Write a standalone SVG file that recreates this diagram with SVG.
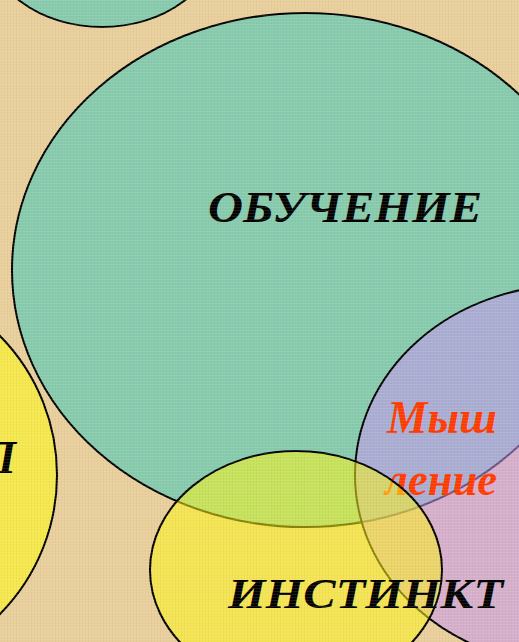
<svg xmlns="http://www.w3.org/2000/svg" width="519" height="642" viewBox="0 0 519 642">
<defs>
<pattern id="weave" width="6" height="6" patternUnits="userSpaceOnUse">
<rect width="6" height="6" fill="none"/>
<path d="M0 0.5H6M0 3.5H6" stroke="#ffffff" stroke-opacity="0.10" stroke-width="1"/>
<path d="M1.5 0V6M4.5 0V6" stroke="#8a6a30" stroke-opacity="0.06" stroke-width="1"/>
</pattern>
<style>
.bub{stroke:#000;stroke-width:2}
.lbl{font-family:"Liberation Serif","DejaVu Serif",serif;font-style:italic;font-weight:bold}
</style>
</defs>
<rect id="background" width="519" height="642" fill="#e8cf9c"/>
<g id="node-top-left"><ellipse class="bub" cx="102" cy="-60" rx="115" ry="87" fill="#86cbae"/></g>
<g id="node-left"><ellipse class="bub" cx="-141" cy="475" rx="198" ry="198" fill="#f5e84c"/>
<text class="lbl" x="16" y="473" font-size="46" text-anchor="end" fill="#000">П</text></g>
<g id="node-obuchenie"><ellipse class="bub" cx="305" cy="270" rx="293" ry="257" fill="#86cbae"/>
<text class="lbl" x="208" y="222" font-size="44" textLength="274" lengthAdjust="spacingAndGlyphs" fill="#000">ОБУЧЕНИЕ</text></g>
<g id="node-myshlenie"><ellipse cx="570" cy="475" rx="215" ry="190" fill="#c696f4" fill-opacity="0.55" stroke="#000" stroke-width="2"/>
<text class="lbl" x="387" y="433" font-size="46" textLength="110" lengthAdjust="spacingAndGlyphs" fill="#ff3a00">Мыш</text>
<text class="lbl" x="385" y="495" font-size="46" textLength="112" lengthAdjust="spacingAndGlyphs" fill="#ff3a00">ление</text></g>
<g id="node-instinkt"><ellipse cx="296" cy="570" rx="146" ry="119" fill="#fff710" fill-opacity="0.53" stroke="#000" stroke-width="2"/>
<text class="lbl" x="228" y="608" font-size="42" textLength="275" lengthAdjust="spacingAndGlyphs" fill="#000">ИНСТИНКТ</text></g>
<g id="connectors"/>
<rect width="519" height="642" fill="url(#weave)" pointer-events="none"/>
</svg>
